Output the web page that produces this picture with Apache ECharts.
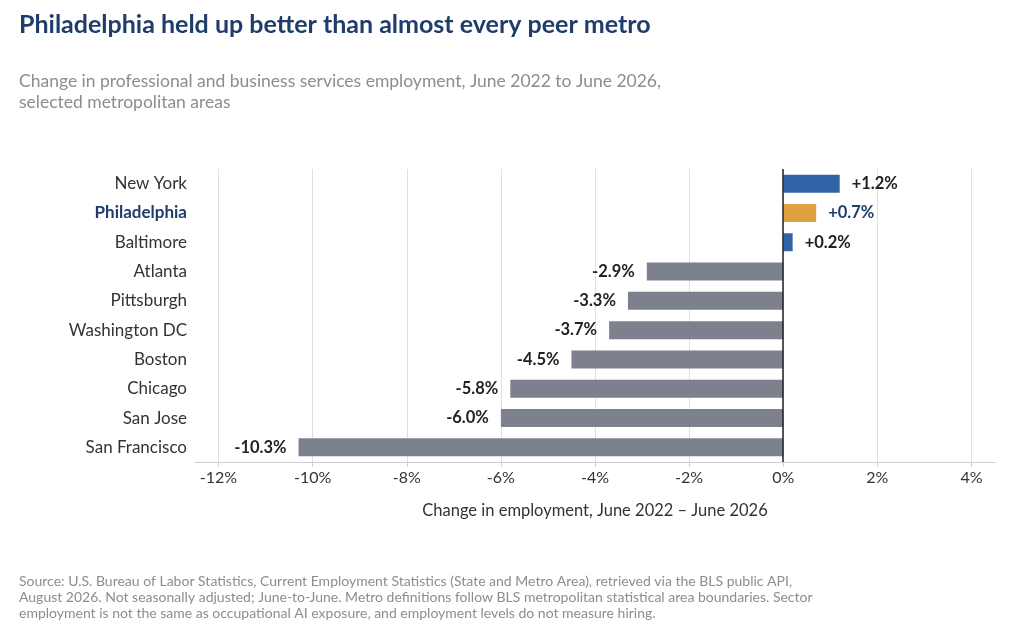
<!DOCTYPE html>
<html><head><meta charset="utf-8">
<script src="https://cdn.jsdelivr.net/npm/echarts@6/dist/echarts.min.js"></script>
<style>body{margin:0}#main{width:1014px;height:630px}</style>
</head><body><div id="main"></div>
<script>
var metros = ['New York','Philadelphia','Baltimore','Atlanta','Pittsburgh','Washington DC','Boston','Chicago','San Jose','San Francisco'];
var change = [1.2, 0.7, 0.2, -2.9, -3.3, -3.7, -4.5, -5.8, -6.0, -10.3];
var ticks = [-12,-10,-8,-6,-4,-2,0,2,4];

var myChart = echarts.init(document.getElementById('main'));
var font = 'Lato, "Open Sans", sans-serif';
var data = [];
for (var i = 0; i < change.length; i++) {
	var c = change[i] < 0 ? '#7c818d' : (metros[i] == 'Philadelphia' ? '#e0a23f' : '#2f64a6');
	data.push({value: change[i], itemStyle: {color: c}});
}
var option = {
	textStyle: {fontFamily: font},
	title: [
		{text: 'Philadelphia held up better than almost every peer metro', left: 14, top: 7,
		 textStyle: {fontSize: 25, fontWeight: 'bold', color: '#1f3d6b', fontFamily: font}},
		{text: 'Change in professional and business services employment, June 2022 to June 2026,\nselected metropolitan areas', left: 14, top: 66,
		 textStyle: {fontSize: 17.5, fontWeight: 'normal', color: '#8a8d94', lineHeight: 21, fontFamily: font}},
		{text: 'Source: U.S. Bureau of Labor Statistics, Current Employment Statistics (State and Metro Area), retrieved via the BLS public API,\nAugust 2026. Not seasonally adjusted; June-to-June. Metro definitions follow BLS metropolitan statistical area boundaries. Sector\nemployment is not the same as occupational AI exposure, and employment levels do not measure hiring.', left: 14, top: 568,
		 textStyle: {fontSize: 14, fontWeight: 'normal', color: '#8a8d94', lineHeight: 16, fontFamily: font}}
	],
	grid: {left: 195, right: 19, top: 169, bottom: 168},
	xAxis: {
		type: 'value', min: -12.5, max: 4.5,
		name: 'Change in employment, June 2022 \u2013 June 2026', nameLocation: 'middle', nameGap: 40,
		nameTextStyle: {fontSize: 16.5, color: '#333'},
		axisLine: {show: true, onZero: false, lineStyle: {color: '#cfcfcf'}},
		axisTick: {show: true, customValues: ticks, length: 5, lineStyle: {color: '#cfcfcf'}},
		axisLabel: {customValues: ticks, fontSize: 16, color: '#333', formatter: function (v) { return v + '%'; }},
		splitLine: {show: true, lineStyle: {color: '#e0e0e0'}}
	},
	yAxis: {
		type: 'category', data: metros, inverse: true,
		axisLine: {show: false}, axisTick: {show: false},
		axisLabel: {fontSize: 17, color: '#333', margin: 8,
			formatter: function (v) { return v == 'Philadelphia' ? '{p|' + v + '}' : v; },
			rich: {p: {fontSize: 17, fontWeight: 'bold', color: '#1f3d6b'}}}
	},
	series: [{
		type: 'bar', data: data, barWidth: 18,
		label: {show: true, position: 'right', fontSize: 16.5, fontWeight: 'bold', distance: 12,
			color: '#222',
			formatter: function (p) { return (p.value > 0 ? '+' : '') + p.value.toFixed(1) + '%'; }},
		markLine: {silent: true, symbol: 'none', label: {show: false},
			lineStyle: {color: '#222', type: 'solid', width: 1.5}, data: [{xAxis: 0}]}
	}]
};
data[1].label = {color: '#1f3d6b'};
for (var j = 0; j < data.length; j++) {
	if (change[j] < 0) data[j].label = {position: 'left'};
}
myChart.setOption(option);
</script></body></html>
